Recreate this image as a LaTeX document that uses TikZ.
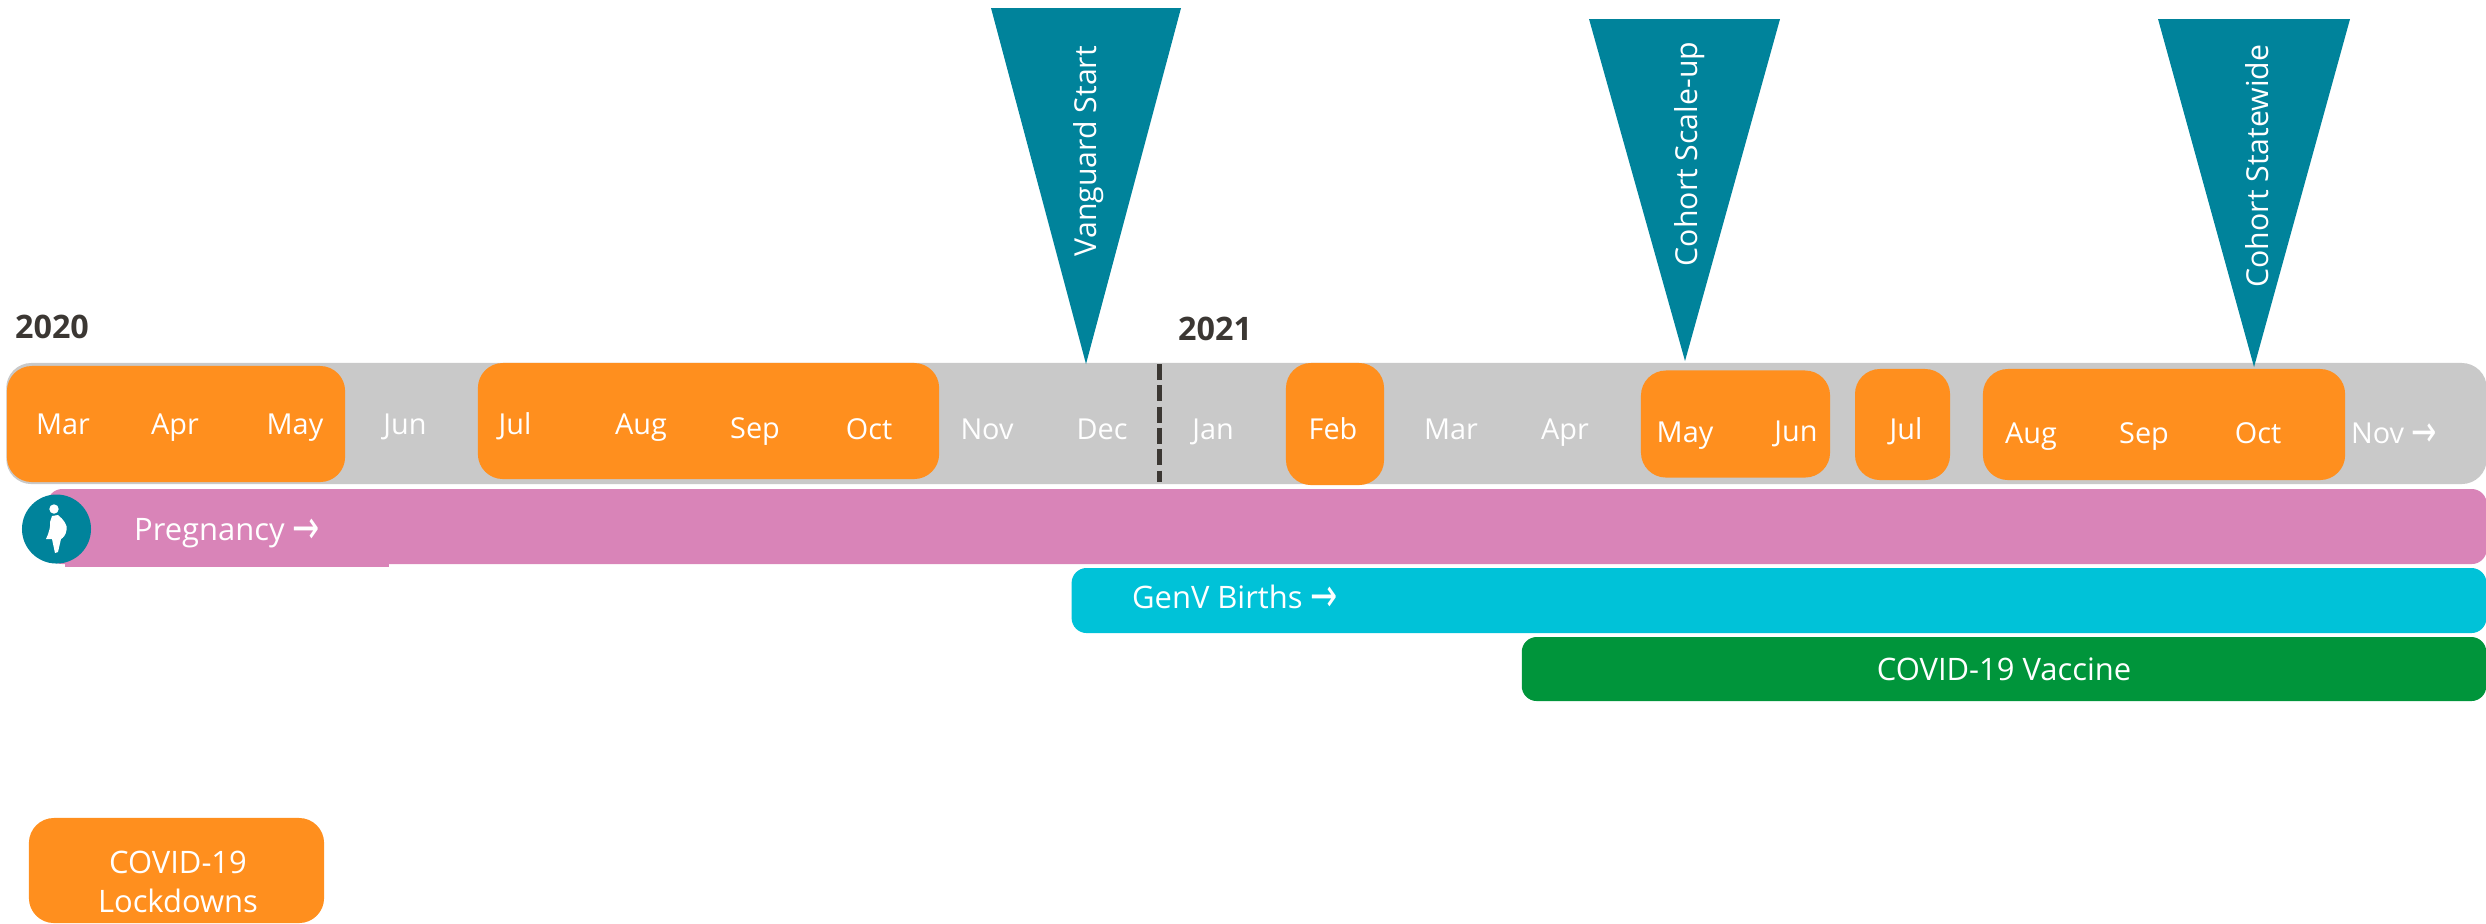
\documentclass[tikz,border=0pt]{standalone}
\usepackage{fontspec}
\setmainfont{Open Sans}
\newfontfamily\arrowfont{DejaVu Sans}
\usetikzlibrary{positioning}
\definecolor{lockdown}{RGB}{255,143,30}
\definecolor{months}{RGB}{201,201,201}
\definecolor{pregnancy}{RGB}{217,132,184}
\definecolor{births}{RGB}{0,194,216}
\definecolor{vaccine}{RGB}{0,149,59}
\definecolor{milestone}{RGB}{0,131,155}
\definecolor{yeartext}{RGB}{59,55,51}
\newcommand{\rarrow}{\raisebox{-.2ex}{\scalebox{1.05}[1.5]{\arrowfont\char"2192}}}
\tikzset{
  band/.style={inner sep=0pt, rounded corners=2.5mm},
  month/.style={anchor=base, inner sep=0pt, text=white, font=\fontsize{8.2}{10}\selectfont},
  label text/.style={anchor=base, inner sep=0pt, text=white, font=\fontsize{8.8}{10}\selectfont},
  year/.style={anchor=base, inner sep=0pt, text=yeartext, font=\fontsize{9.2}{11}\selectfont\bfseries},
  mark text/.style={rotate=90, inner sep=0pt, text=white, font=\fontsize{8.6}{10}\selectfont},
}
\begin{document}
\begin{tikzpicture}[x=.01cm, y=-.01cm]
      \useasboundingbox (0,0) rectangle (2486,923);

      % background bars
      \node [band, fill=months, minimum width=24.79cm, minimum height=1.21cm] at (1246.5,423.5) (bar) {};
      \node [inner sep=0pt, fill=pregnancy, minimum width=3.24cm, minimum height=.2cm] at (227,557) (lip) {};
      \node [band, rounded corners=1.5mm, fill=pregnancy, minimum width=24.38cm, minimum height=.75cm] at (1267,526.5) (preg) {};
      \node [band, rounded corners=1.5mm, fill=births, minimum width=14.14cm, minimum height=.65cm] at (1779,600.5) (birth) {};
      \node [band, rounded corners=1.5mm, fill=vaccine, minimum width=9.64cm, minimum height=.64cm] at (2004,669) (vacc) {};

      % lockdown blocks
      \node [band, fill=lockdown, minimum width=3.38cm, minimum height=1.16cm] at (176,424) (lock1) {};
      \node [band, fill=lockdown, minimum width=4.61cm, minimum height=1.16cm] at (708.5,421) (lock2) {};
      \node [band, fill=lockdown, minimum width=.98cm, minimum height=1.22cm] at (1335,424) (lock3) {};
      \node [band, fill=lockdown, minimum width=1.89cm, minimum height=1.07cm] at (1735.5,424) (lock4) {};
      \node [band, fill=lockdown, minimum width=.95cm, minimum height=1.11cm] at (1902.5,424.5) (lock5) {};
      \node [band, fill=lockdown, minimum width=3.62cm, minimum height=1.11cm] at (2164,424.5) (lock6) {};
      \node [band, fill=lockdown, minimum width=2.95cm, minimum height=1.05cm] at (176.5,870.5) (legend) {};

      % year change
      \coordinate (ytop) at (1159,364);
      \coordinate (ybot) at (1159,482);
      \draw [yeartext, line width=.05cm, dash pattern=on .16cm off .053cm] (ytop) -- (ybot);

      % milestones
      \coordinate (tipa) at (1086,364);
      \coordinate (tipb) at (1685,361);
      \coordinate (tipc) at (2254,367);
      \fill [milestone] (991,8) -- (1181,8) -- (tipa) -- cycle;
      \fill [milestone] (1589,19) -- (1780,19) -- (tipb) -- cycle;
      \fill [milestone] (2158,19) -- (2350,19) -- (tipc) -- cycle;
      \node [mark text] at (1089,151) (vanguard) {Vanguard Start};
      \node [mark text] at (1690,154) (scaleup) {Cohort Scale-up};
      \node [mark text] at (2257,166) (statewide) {Cohort Statewide};

      % years
      \node [year] at (52,338) (y2020) {2020};
      \node [year] at (1215,340) (y2021) {2021};

      % months
      \node [month] at (63,434) (mar) {Mar};
      \node [month] at (175,434) (apr) {Apr};
      \node [month] at (295,434) (may) {May};
      \node [month] at (405,434) (jun) {Jun};
      \node [month] at (515,434) (jul) {Jul};
      \node [month] at (641,434) (aug) {Aug};
      \node [month] at (755,438) (sep) {Sep};
      \node [month] at (869,439) (oct) {Oct};
      \node [month] at (987,439) (nov) {Nov};
      \node [month] at (1102,439) (dec) {Dec};
      \node [month] at (1213,439) (jan) {Jan};
      \node [month] at (1333,439) (feb) {Feb};
      \node [month] at (1451,439) (marb) {Mar};
      \node [month] at (1565,439) (aprb) {Apr};
      \node [month] at (1685,442) (mayb) {May};
      \node [month] at (1796,441) (junb) {Jun};
      \node [month] at (1906,439) (julb) {Jul};
      \node [month] at (2031,443) (augb) {Aug};
      \node [month] at (2144,443) (sepb) {Sep};
      \node [month] at (2258,443) (octb) {Oct};
      \node [month] at (2394,443) (novb) {Nov \rarrow};

      % band labels
      \node [label text] at (227,540) (pregtext) {Pregnancy \rarrow};
      \node [label text] at (1235,608) (birthtext) {GenV Births \rarrow};
      \node [label text] at (2004,680) (vacctext) {COVID-19 Vaccine};
      \node [label text] at (178,873) (lega) {COVID-19};
      \node [label text] at (178,912) (legb) {Lockdowns};

      % pregnancy icon
      \node [circle, inner sep=0pt, fill=milestone, minimum size=.69cm] at (56.5,529) (icon) {};
      \fill [white] (54,509) circle (.047cm);
      \fill [white] (52,516) -- (58,515) .. controls (63,519) and (68,525) .. (66.5,530) .. controls (66,535) and (63,538) .. (61,539) -- (58,552) -- (55,553) -- (52,539) -- (46,539) .. controls (49,533) and (51,525) .. (50,522) -- cycle;
    \end{tikzpicture}
\end{document}
